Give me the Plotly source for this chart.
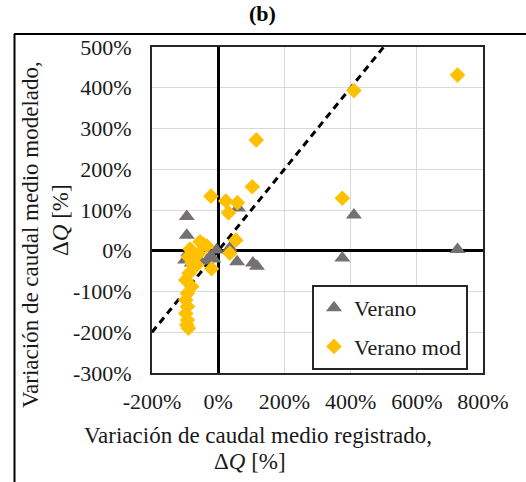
import plotly.graph_objects as go

# ---- data (values in %) ----
verano_x = [723, 410, 375, 105, 117, 57, 35, 60, -95, -95, -100, -90, -25, -35, -15, -60, -80, -5]
verano_y = [3, 88, -18, -30, -38, -27, 7, 105, 84, 38, -23, -5, -15, -25, -20, -20, -30, 2]

mod_x = [723, 410, 115, 103, 375, -22, 23, 58, 31, 53, 35, -20,
         -55, -35, -45, -85, -75, -60, -90, -65, -80, -88, -98, -80, -93, -98, -93, -98, -93, -90, -95]
mod_y = [431, 393, 272, 157, 129, 134, 122, 118, 93, 26, -6, -44,
         22, 12, 16, 4, -15, -8, -15, -35, -30, -55, -72, -88, -104, -121, -137, -154, -170, -190, -182]

ref_x = [-200, 500]
ref_y = [-200, 500]

x_ticks = [-200, 0, 200, 400, 600, 800]
y_ticks = [-300, -200, -100, 0, 100, 200, 300, 400, 500]

W, H = 526, 482
L, R, T, B = 152, 43, 47, 109
PW, PH = W - L - R, H - T - B

def px(xp):
    return (xp - L) / PW

def py(yp):
    return (H - B - yp) / PH

FONT = "Liberation Serif"
TXT = "#1a1a1a"

fig = go.Figure()
fig.add_trace(go.Scatter(x=ref_x, y=ref_y, mode="lines",
                         line=dict(color="black", width=3, dash="7px,5px"),
                         showlegend=False, hoverinfo="skip"))
fig.add_trace(go.Scatter(x=verano_x, y=verano_y, mode="markers", name="Verano",
                         legendgroup="a",
                         marker=dict(symbol="triangle-up", size=14, color="#767171")))
fig.add_trace(go.Scatter(x=mod_x, y=mod_y, mode="markers", name="Verano mod",
                         legendgroup="b",
                         marker=dict(symbol="diamond", size=12, color="#FFC000")))

fig.update_xaxes(range=[-200, 800], tickvals=x_ticks,
                 ticktext=[f"{v}%" for v in x_ticks],
                 showgrid=True, gridcolor="#d9d9d9", gridwidth=1,
                 zeroline=True, zerolinecolor="black", zerolinewidth=2.5,
                 showline=True, linecolor="#262626", linewidth=2, mirror=True,
                 ticks="", ticklabelstandoff=8,
                 tickfont=dict(family=FONT, size=22, color=TXT))
fig.update_yaxes(range=[-300, 500], tickvals=y_ticks,
                 ticktext=[f"{v}%" for v in y_ticks],
                 showgrid=True, gridcolor="#d9d9d9", gridwidth=1,
                 zeroline=True, zerolinecolor="black", zerolinewidth=2.5,
                 showline=True, linecolor="#262626", linewidth=2, mirror=True,
                 ticks="", ticklabelstandoff=14,
                 tickfont=dict(family=FONT, size=22, color=TXT))

annots = [
    dict(text="<b>(b)</b>", x=px(262), y=py(14), size=22),
    dict(text="Variación de caudal medio registrado,", x=px(258), y=py(435), size=23),
    dict(text="Δ<i>Q</i> [%]", x=px(250), y=py(461), size=23),
    dict(text="Variación de caudal medio modelado,", x=px(30), y=py(235), size=23, angle=-90),
    dict(text="Δ<i>Q</i> [%]", x=px(60), y=py(220), size=23, angle=-90),
]
for a in annots:
    fig.add_annotation(text=a["text"], x=a["x"], y=a["y"], xref="paper", yref="paper",
                       showarrow=False, xanchor="center", yanchor="middle",
                       textangle=a.get("angle", 0),
                       font=dict(family=FONT, size=a["size"], color="black" if "(b)" in a["text"] else TXT))

# outer frame
fig.add_shape(type="line", xref="paper", yref="paper",
              x0=px(14.5), x1=px(14.5), y0=py(34), y1=py(490),
              line=dict(color="black", width=2))
fig.add_shape(type="line", xref="paper", yref="paper",
              x0=px(14), x1=px(540), y0=py(34), y1=py(34),
              line=dict(color="black", width=2))

fig.update_layout(
    width=W, height=H,
    margin=dict(l=L, r=R, t=T, b=B),
    paper_bgcolor="white", plot_bgcolor="white",
    legend=dict(x=px(312), y=py(370), xanchor="left", yanchor="bottom",
                bgcolor="white", bordercolor="#262626", borderwidth=2,
                tracegroupgap=7,
                font=dict(family=FONT, size=22, color=TXT)),
)

fig.write_html("out.html",
               config={"displayModeBar": False},
               post_script="document.body.style.margin='0';document.body.style.overflow='hidden';")
